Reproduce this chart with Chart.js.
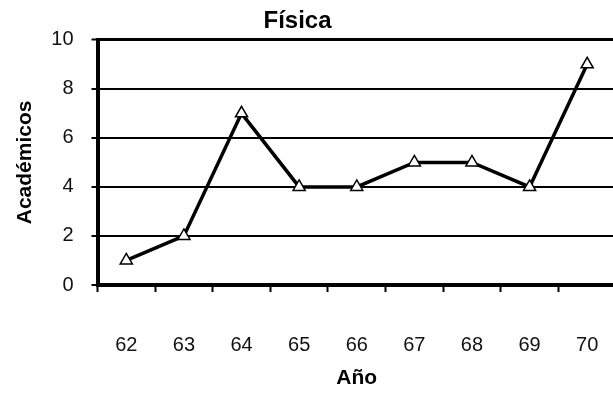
<!DOCTYPE html>
<html>
<head>
<meta charset="utf-8">
<script src="https://cdn.jsdelivr.net/npm/chart.js@4"></script>
<style>
  html, body { margin: 0; padding: 0; background: #fff; overflow: hidden; }
  #wrap { width: 620px; height: 401px; }
</style>
</head>
<body>
<div id="wrap"><canvas id="chartFisica"></canvas></div>
<script>
// datos
const anos = ['62', '63', '64', '65', '66', '67', '68', '69', '70'];
const academicos = [1, 2, 7, 4, 4, 5, 5, 4, 9];
const yTicks = [0, 2, 4, 6, 8, 10];

Chart.defaults.font.family = "'Liberation Sans', Arial, sans-serif";
Chart.defaults.color = '#000';

new Chart(document.getElementById('chartFisica'), {
    type: 'line',
    data: {
        labels: anos,
        datasets: [{
            label: 'Física',
            data: academicos,
            borderColor: '#000',
            borderWidth: 3.5,
            tension: 0,
            pointStyle: 'triangle',
            pointRadius: 7,
            pointBorderWidth: 1.5,
            pointBackgroundColor: '#fff',
            pointBorderColor: '#000'
        }]
    },
    options: {
        responsive: true,
        maintainAspectRatio: false,
        animation: false,
        // el area del grafico sigue fuera del borde derecho, como en el original
        layout: { autoPadding: false, padding: { left: -21, right: 4, top: 0, bottom: 0 } },
        plugins: {
            legend: { display: false },
            tooltip: { enabled: false },
            title: {
                display: true,
                text: 'Física',
                font: { size: 24, weight: 'bold' },
                padding: { top: 7, bottom: 4 }
            }
        },
        scales: {
            x: {
                offset: true,
                afterFit: s => { s.height = 116; s.paddingLeft = 0; s.paddingRight = 0; },
                grid: { display: true, drawOnChartArea: false, offset: true, color: '#000', tickLength: 7, tickWidth: 2 },
                border: { display: true, color: '#000', width: 4 },
                ticks: { padding: 41, font: { size: 20 }, color: '#111', maxRotation: 0, autoSkip: false },
                title: { display: true, text: 'Año', font: { size: 21, weight: 'bold' }, padding: { top: 0, bottom: 10 } }
            },
            y: {
                min: 0,
                max: 10,
                afterBuildTicks: axis => { axis.ticks = yTicks.map(v => ({ value: v })); },
                afterFit: s => { s.width = 118.5; },
                grid: {
                    color: '#000',
                    lineWidth: c => (c.tick && c.tick.value === 10 ? 3 : 2),
                    tickLength: 6,
                    tickWidth: 2
                },
                border: { display: true, color: '#000', width: 4 },
                ticks: { padding: 18, font: { size: 20 }, color: '#111' },
                title: { display: true, text: 'Académicos', font: { size: 21, weight: 'bold' }, padding: { top: 34, bottom: 0 } }
            }
        }
    }
});
</script>
</body>
</html>
